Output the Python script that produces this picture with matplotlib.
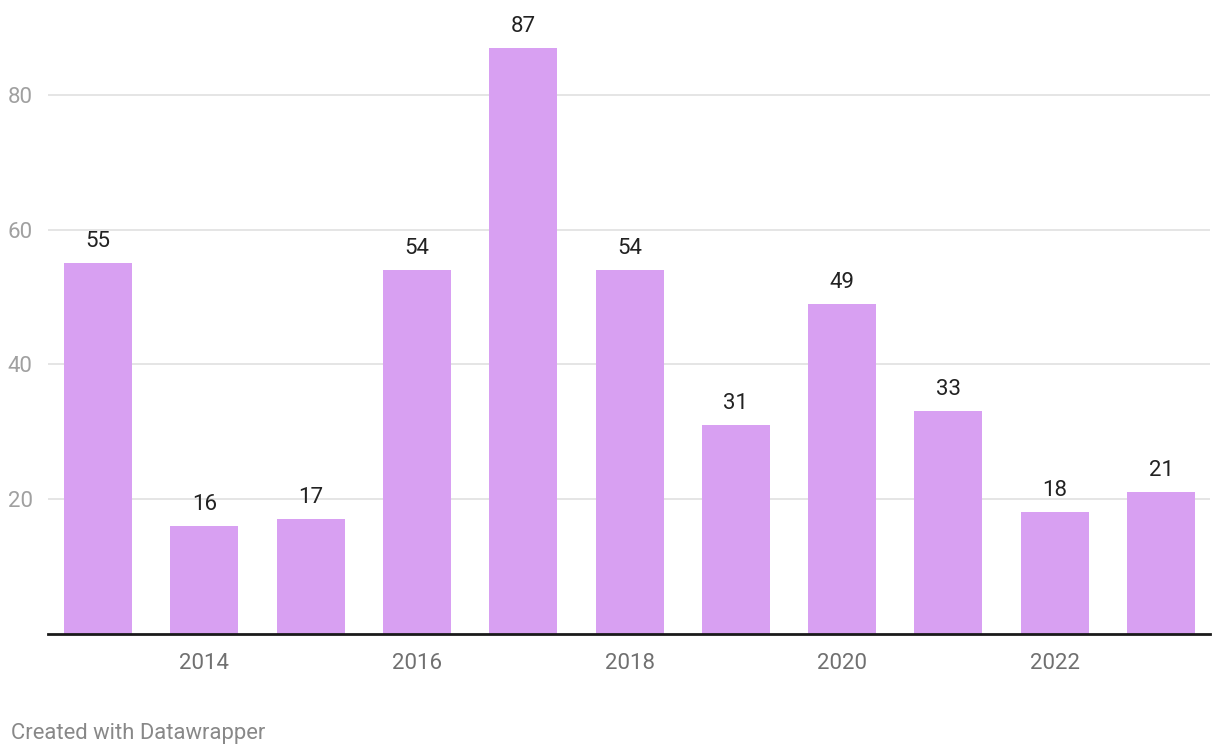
import matplotlib
matplotlib.use("Agg")
import matplotlib.pyplot as plt

years = [2013, 2014, 2015, 2016, 2017, 2018, 2019, 2020, 2021, 2022, 2023]
values = [55, 16, 17, 54, 87, 54, 31, 49, 33, 18, 21]
yticks = [20, 40, 60, 80]
xtick_years = [2014, 2016, 2018, 2020, 2022]

plt.rcParams['font.family'] = ['Roboto', 'DejaVu Sans']

fig = plt.figure(figsize=(12.2, 7.56), dpi=100)
ax = fig.add_axes([48/1220, 1 - 633.7/756, 1162/1220, 633.7/756])

pos = list(range(len(years)))
bars = ax.bar(pos, values, width=0.64, color='#d8a0f2', zorder=2)

for x, v in zip(pos, values):
    ax.annotate(str(v), (x, v), xytext=(0, 8), textcoords='offset points',
                ha='center', va='bottom', fontsize=16, color='#222222')

ax.set_xlim(-0.47, 10.46)
ax.set_ylim(0, 94.1)

ax.set_yticks(yticks)
ax.set_yticklabels([str(t) for t in yticks])
ax.grid(axis='y', color='#e3e3e3', lw=1.3, zorder=0)
ax.tick_params(axis='y', length=0, pad=11, labelsize=16, labelcolor='#a0a0a0')

ax.set_xticks([years.index(y) for y in xtick_years])
ax.set_xticklabels([str(y) for y in xtick_years])
ax.tick_params(axis='x', length=0, pad=14, labelsize=16, labelcolor='#707070')

for s in ['top', 'right', 'left']:
    ax.spines[s].set_visible(False)
ax.spines['bottom'].set_color('#1a1a1a')
ax.spines['bottom'].set_linewidth(2)
ax.spines['bottom'].set_zorder(3)

fig.text(11/1220, 1 - 733/756, 'Created with Datawrapper', fontsize=15.8,
         color='#888888', ha='left', va='center')

fig.savefig('out.png', dpi=100)
